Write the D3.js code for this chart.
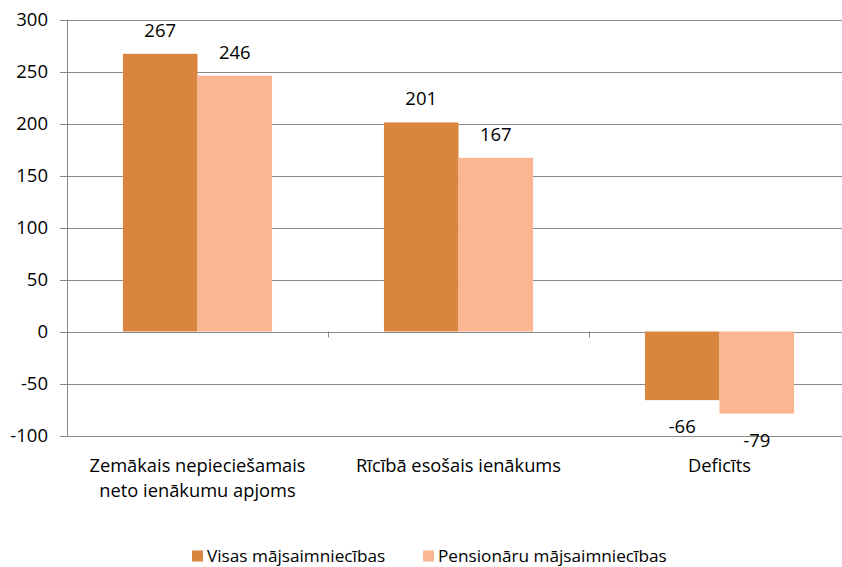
<!DOCTYPE html>
<html><head><meta charset="utf-8">
<script src="https://cdn.jsdelivr.net/npm/d3@7"></script>
<style>
body{margin:0;background:#fff;}
text{font-family:"Open Sans",sans-serif;fill:#000;}
</style></head>
<body><svg id="c" width="842" height="567"></svg>
<script>
const categories = [["Zemākais nepieciešamais","neto ienākumu apjoms"],["Rīcībā esošais ienākums"],["Deficīts"]];
const seriesNames = ["Visas mājsaimniecības","Pensionāru mājsaimniecības"];
const visas = [267, 201, -66];
const pensionaru = [246, 167, -79];
const yTicks = [-100,-50,0,50,100,150,200,250,300];
const colors = ["#D9843F","#F9B691"];

const svg = d3.select("#c");
const fsNum = 18.5, fsCat = 18.3, fsLeg = 17.2;
const x0 = d3.scaleBand().domain(d3.range(categories.length)).range([67,850]);
const bw = x0.bandwidth()/3.5;
const x1 = d3.scaleBand().domain([0,1]).range([x0.bandwidth()*0.75/3.5, x0.bandwidth()*0.75/3.5 + 2*bw]);
const y = d3.scaleLinear().domain([-100,300]).range([435.5,19.5]);

// gridlines
svg.append("g").selectAll("line").data(yTicks).join("line")
  .attr("x1",60).attr("x2",850).attr("y1",d=>Math.round(y(d))+0.5).attr("y2",d=>Math.round(y(d))+0.5)
  .attr("stroke","#898989").attr("stroke-width",1);
// y axis line
svg.append("line").attr("x1",67.5).attr("x2",67.5).attr("y1",y(300)).attr("y2",y(-100)+1)
  .attr("stroke","#898989");
// y tick labels
svg.append("g").selectAll("text").data(yTicks).join("text")
  .attr("x",48).attr("y",d=>y(d)).attr("dy","0.36em").attr("text-anchor","end")
  .attr("font-size",fsNum).text(d=>d);

const series = [visas, pensionaru];
series.forEach((vals,si)=>{
  const g = svg.append("g");
  g.selectAll("rect").data(vals).join("rect")
    .attr("x",(d,i)=>x0(i)+x1(si)).attr("width",x1.bandwidth())
    .attr("y",d=>y(Math.max(0,d))).attr("height",d=>Math.abs(y(d)-y(0)))
    .attr("fill",colors[si]);
  g.selectAll("text").data(vals).join("text")
    .attr("x",(d,i)=>x0(i)+x1(si)+x1.bandwidth()/2)
    .attr("y",d=>d>=0? y(d)-17 : y(d)+33)
    .attr("text-anchor","middle").attr("font-size",fsNum).text(d=>d);
});

// category ticks at zero line
svg.append("g").selectAll("line").data([1,2]).join("line")
  .attr("x1",d=>Math.round(x0(d))+0.5).attr("x2",d=>Math.round(x0(d))+0.5)
  .attr("y1",y(0)).attr("y2",y(0)+6).attr("stroke","#898989");

// category labels
categories.forEach((lines,i)=>{
  const t = svg.append("text").attr("text-anchor","middle").attr("font-size",fsCat);
  lines.forEach((ln,j)=>{
    t.append("tspan").attr("x",x0(i)+x0.bandwidth()/2).attr("y",472+j*25).text(ln);
  });
});

// legend
const legX = [192, 423];
seriesNames.forEach((n,i)=>{
  svg.append("rect").attr("x",legX[i]).attr("y",550.5).attr("width",11).attr("height",11).attr("fill",colors[i]);
  svg.append("text").attr("x",legX[i]+15).attr("y",562).attr("font-size",fsLeg).text(n);
});
</script></body></html>
